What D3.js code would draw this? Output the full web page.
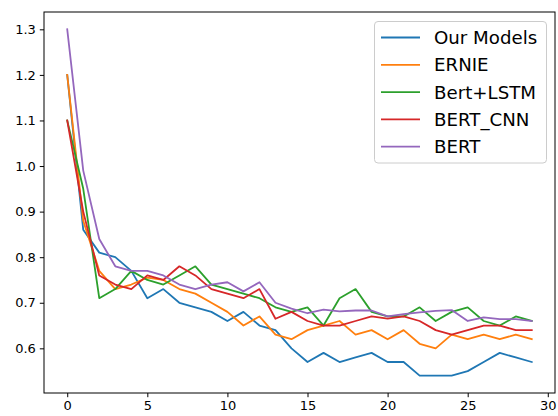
<!DOCTYPE html>
<html>
<head>
<meta charset="utf-8">
<script src="https://cdn.jsdelivr.net/npm/d3@7"></script>
<style>
  html, body { margin: 0; padding: 0; background: #fff; }
  svg { display: block; }
  text { font-family: "DejaVu Sans", sans-serif; fill: #000; }
</style>
</head>
<body>
<svg id="chart" width="558" height="416"></svg>
<script>
const epochs = d3.range(0, 30);
const seriesNames = ["Our Models", "ERNIE", "Bert+LSTM", "BERT_CNN", "BERT"];
const ourModels = [1.2, 0.86, 0.81, 0.80, 0.77, 0.71, 0.73, 0.70, 0.69, 0.68, 0.66, 0.68, 0.65, 0.64, 0.60, 0.57, 0.59, 0.57, 0.58, 0.59, 0.57, 0.57, 0.54, 0.54, 0.54, 0.55, 0.57, 0.59, 0.58, 0.57];
const ernie = [1.2, 0.88, 0.77, 0.73, 0.74, 0.755, 0.75, 0.73, 0.72, 0.70, 0.68, 0.65, 0.67, 0.63, 0.62, 0.64, 0.65, 0.66, 0.63, 0.64, 0.62, 0.64, 0.61, 0.60, 0.63, 0.62, 0.63, 0.62, 0.63, 0.62];
const bertLstm = [1.1, 0.95, 0.71, 0.73, 0.77, 0.75, 0.74, 0.76, 0.78, 0.74, 0.73, 0.72, 0.71, 0.69, 0.68, 0.69, 0.65, 0.71, 0.73, 0.68, 0.67, 0.67, 0.69, 0.66, 0.68, 0.69, 0.66, 0.65, 0.67, 0.66];
const bertCnn = [1.1, 0.90, 0.76, 0.74, 0.73, 0.76, 0.75, 0.78, 0.76, 0.73, 0.72, 0.71, 0.73, 0.665, 0.68, 0.66, 0.65, 0.65, 0.66, 0.67, 0.665, 0.67, 0.66, 0.64, 0.63, 0.64, 0.65, 0.65, 0.64, 0.64];
const bert = [1.3, 0.99, 0.84, 0.78, 0.77, 0.77, 0.76, 0.74, 0.73, 0.74, 0.745, 0.725, 0.745, 0.70, 0.687, 0.677, 0.685, 0.681, 0.683, 0.683, 0.67, 0.675, 0.679, 0.682, 0.684, 0.66, 0.668, 0.664, 0.664, 0.66];
const xTicks = [0, 5, 10, 15, 20, 25, 30];
const yTicks = [0.6, 0.7, 0.8, 0.9, 1.0, 1.1, 1.2, 1.3];

const colors = ["#1f77b4", "#ff7f0e", "#2ca02c", "#d62728", "#9467bd"];
const allSeries = [ourModels, ernie, bertLstm, bertCnn, bert];

const svg = d3.select("#chart");
const L = 44, R = 555, T = 12, B = 393;

const xMin = 0, xMax = 29, xPad = (xMax - xMin) * 0.05;
const yMin = d3.min(allSeries.flat()), yMax = d3.max(allSeries.flat());
const yPad = (yMax - yMin) * 0.05;

const x = d3.scaleLinear().domain([xMin - xPad, xMax + xPad]).range([L, R]);
const y = d3.scaleLinear().domain([yMin - yPad, yMax + yPad]).range([B, T]);

const line = d3.line().x((d, i) => x(epochs[i])).y(d => y(d));

const g = svg.append("g");
allSeries.forEach((s, k) => {
  g.append("path")
    .attr("d", line(s))
    .attr("fill", "none")
    .attr("stroke", colors[k])
    .attr("stroke-width", 1.8)
    .attr("stroke-linejoin", "round")
    .attr("stroke-linecap", "square");
});

// axes
const xAxis = d3.axisBottom(x).tickValues(xTicks).tickSize(4.2).tickPadding(4).tickFormat(d3.format("d"));
const yAxis = d3.axisLeft(y).tickValues(yTicks).tickSize(4.2).tickPadding(4).tickFormat(d3.format(".1f"));

const gx = svg.append("g").attr("transform", `translate(0,${B})`).call(xAxis);
const gy = svg.append("g").attr("transform", `translate(${L},0)`).call(yAxis);
[gx, gy].forEach(a => {
  a.select(".domain").remove();
  a.selectAll(".tick line").attr("stroke", "#000").attr("stroke-width", 1);
  a.selectAll(".tick text").attr("font-size", 13).attr("font-family", "DejaVu Sans").attr("fill", "#000");
});

// spines
svg.append("rect")
  .attr("x", L).attr("y", T).attr("width", R - L).attr("height", B - T)
  .attr("fill", "none").attr("stroke", "#000").attr("stroke-width", 1);

// legend
const lg = svg.append("g");
lg.append("rect")
  .attr("x", 374.5).attr("y", 21.5).attr("width", 172).attr("height", 141.5)
  .attr("rx", 3.5).attr("ry", 3.5)
  .attr("fill", "#fff").attr("fill-opacity", 0.8)
  .attr("stroke", "#cccccc").attr("stroke-width", 1);
seriesNames.forEach((name, k) => {
  const cy = 37.5 + k * 27.3;
  lg.append("line")
    .attr("x1", 381).attr("x2", 420).attr("y1", cy).attr("y2", cy)
    .attr("stroke", colors[k]).attr("stroke-width", 1.8);
  lg.append("text")
    .attr("x", 434).attr("y", cy).attr("dy", "0.36em")
    .attr("font-size", 18.2).text(name);
});
</script>
</body>
</html>
